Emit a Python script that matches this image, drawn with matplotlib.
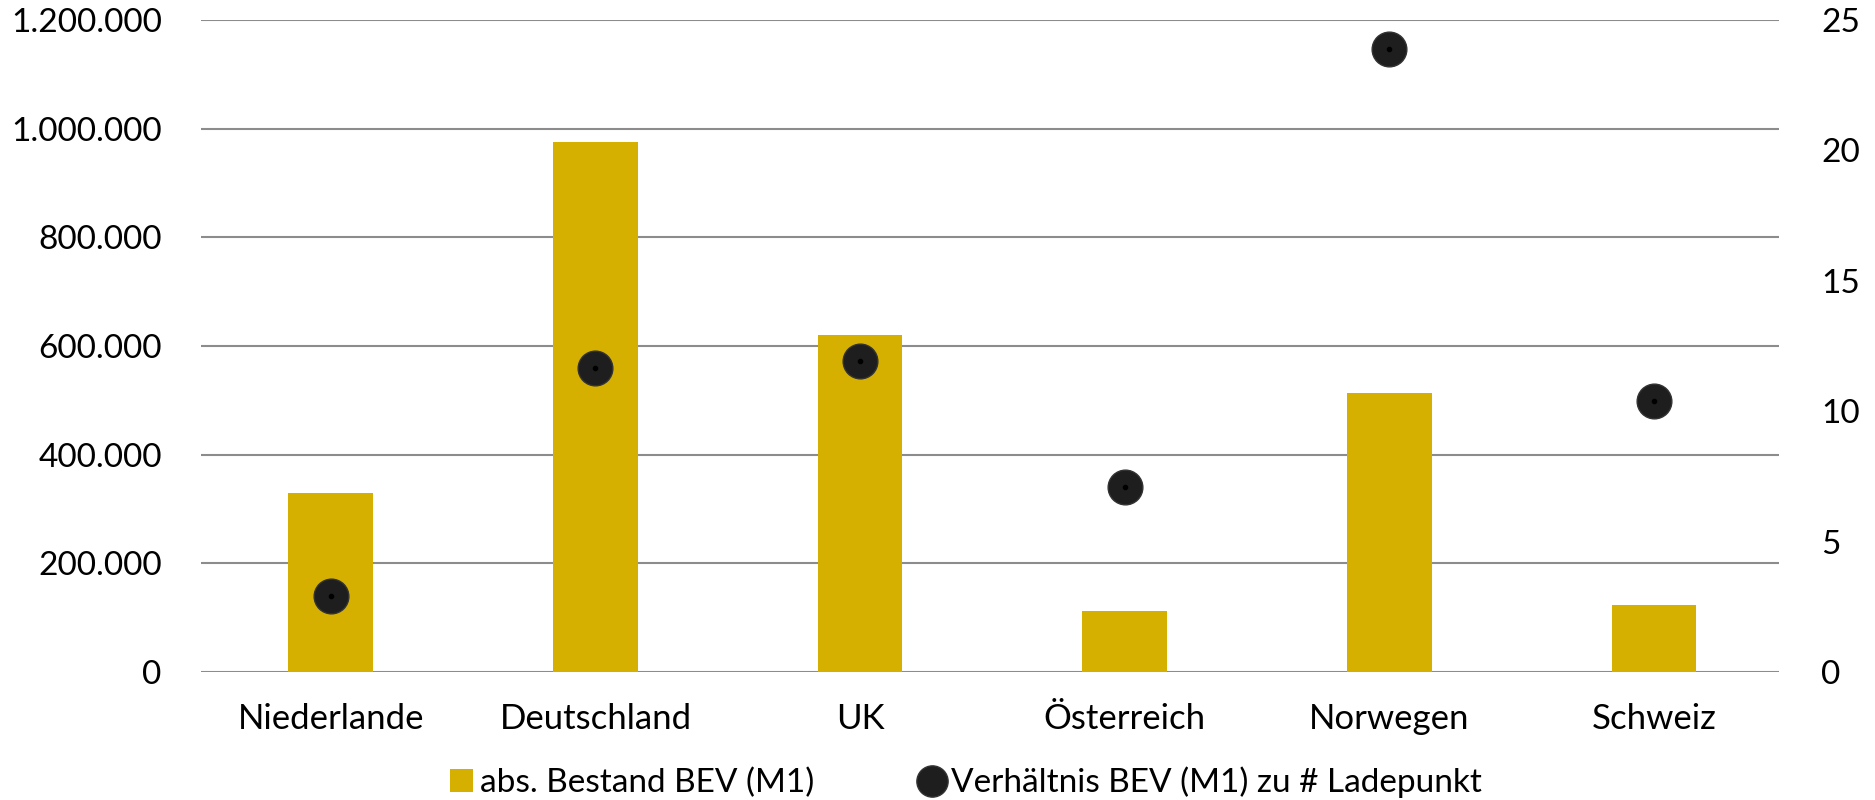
import numpy as np
import matplotlib.pyplot as plt
from matplotlib.ticker import FuncFormatter

plt.rcParams['font.family'] = ['Lato', 'DejaVu Sans']

# Daten
laender = ['Niederlande', 'Deutschland', 'UK', 'Österreich', 'Norwegen', 'Schweiz']
bestand = [330000, 975000, 621000, 112000, 514000, 123000]
verhaeltnis = [2.9, 11.65, 11.93, 7.1, 23.9, 10.4]

bar_farbe = '#D6B000'
punkt_farbe = '#1E1E1E'
grid_farbe = '#8C8C8C'

fig = plt.figure(figsize=(18.75, 8), dpi=100)
ax = fig.add_axes([0.107, 0.16, 0.842, 0.815])
ax2 = ax.twinx()

x = np.arange(len(laender))
ax.bar(x, bestand, width=0.32, color=bar_farbe, zorder=2,
       label='abs. Bestand BEV (M1)')

ax.set_ylim(0, 1200000)
ax.set_yticks(np.arange(0, 1200001, 200000))
ax.yaxis.set_major_formatter(FuncFormatter(lambda v, p: f'{int(v):,}'.replace(',', '.')))
ax.grid(axis='y', color=grid_farbe, linewidth=1.5, zorder=0)
ax.set_axisbelow(True)
ax.set_xlim(-0.492, 5.474)
ax.set_xticks(x)
ax.set_xticklabels(laender, fontsize=25)

ax2.plot(x, verhaeltnis, linestyle='none', marker='o', markersize=25,
         color=punkt_farbe, markeredgecolor='#333333', markeredgewidth=1,
         zorder=3, label='Verhältnis BEV (M1) zu # Ladepunkt')
ax2.plot(x, verhaeltnis, linestyle='none', marker='o', markersize=3,
         color='black', zorder=4)
ax2.set_ylim(0, 25)
ax2.set_yticks(np.arange(0, 26, 5))

for a in (ax, ax2):
    for s in a.spines.values():
        s.set_visible(False)
    a.tick_params(length=0, labelsize=24, colors='black')
ax.tick_params(axis='x', pad=22, labelsize=25)
ax.tick_params(axis='y', pad=28)
ax2.tick_params(axis='y', pad=30)

h1, l1 = ax.get_legend_handles_labels()
h2, l2 = ax2.get_legend_handles_labels()
fig.legend([h1[0], h2[0]], [l1[0], l2[0]], loc='center', bbox_to_anchor=(0.515, 0.022),
           ncol=2, frameon=False, fontsize=24, handlelength=0.7, handletextpad=0.2,
           columnspacing=3.2, markerscale=0.9)

fig.savefig('out.png', dpi=100)
